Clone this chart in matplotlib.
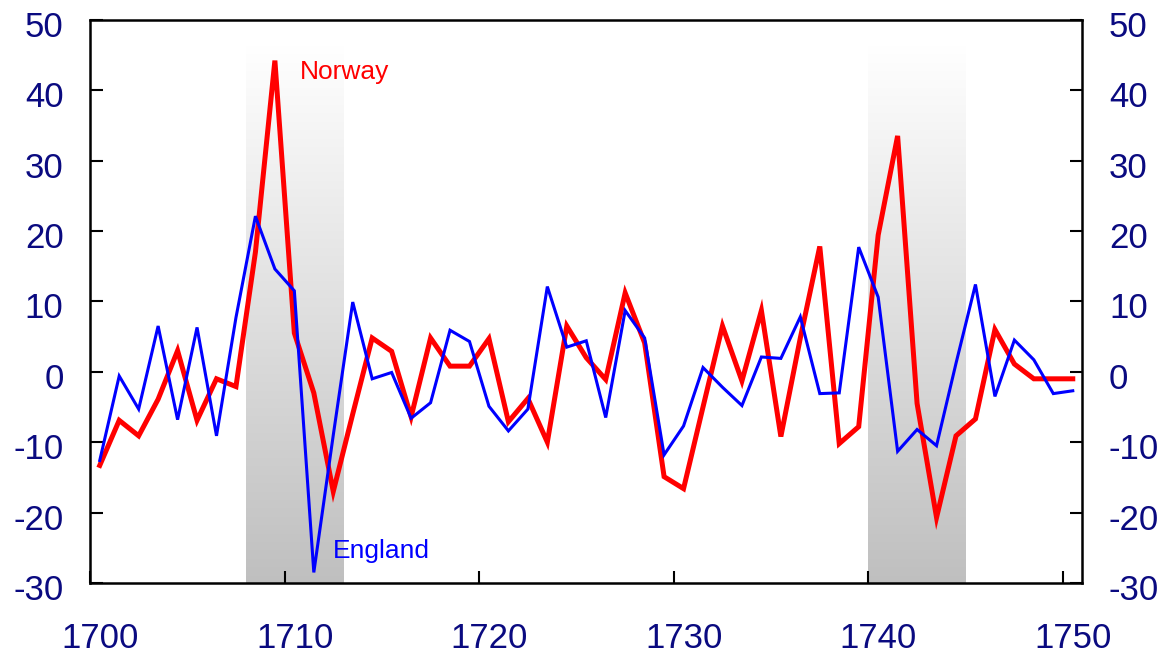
import numpy as np
import matplotlib
matplotlib.use('Agg')
import matplotlib.pyplot as plt
import matplotlib.transforms as mtransforms

plt.rcParams['font.family'] = ['Liberation Sans', 'DejaVu Sans']
plt.rcParams['axes.unicode_minus'] = False

# years (points are plotted mid-year)
years = np.arange(1700, 1751)

# Norway (thick red)
norway = [-13.3, -6.9, -9.1, -3.9, 3.0, -6.9, -1.0, -2.1, 17.0, 44.2,
          5.5, -3.0, -17.0, -6.0, 4.8, 2.9, -6.4, 4.8, 0.8, 0.8,
          4.7, -7.1, -3.8, -10.0, 6.5, 2.0, -1.1, 11.2, 4.1, -14.9,
          -16.6, -5.0, 6.5, -1.3, 8.7, -9.2, 4.8, 17.8, -10.2, -7.8,
          19.4, 33.5, -4.5, -20.7, -9.1, -6.7, 6.0, 1.1, -1.0, -1.0,
          -1.0]

# England (thin blue)
england = [-12.6, -0.6, -5.3, 6.5, -6.8, 6.3, -9.1, 7.7, 22.1, 14.6,
           11.5, -28.5, -9.0, 9.9, -1.0, -0.1, -6.6, -4.4, 5.9, 4.3,
           -4.9, -8.4, -5.3, 12.1, 3.5, 4.4, -6.5, 8.7, 4.8, -11.8,
           -7.7, 0.6, -2.2, -4.8, 2.1, 1.9, 7.8, -3.1, -3.0, 17.7,
           10.6, -11.3, -8.2, -10.5, 1.2, 12.4, -3.5, 4.5, 1.7, -3.1,
           -2.7]

# shaded periods
periods = [(1708, 1713), (1740, 1745)]
shade_top = 46.3

xticks = [1700, 1710, 1720, 1730, 1740, 1750]
yticks = [-30, -20, -10, 0, 10, 20, 30, 40, 50]

fig = plt.figure(figsize=(11.69, 6.58), dpi=100)
ax = fig.add_axes([0.077, 0.114, 0.849, 0.856])

# gradient shading: white at top -> grey at bottom
grad = np.linspace(1.0, 0.75, 256).reshape(-1, 1)
rgb = np.dstack([grad, grad, grad])
for a, b in periods:
    ax.imshow(rgb, extent=[a, b, -30, shade_top], aspect='auto',
              origin='upper', zorder=0, interpolation='bilinear')

x = years + 0.5
ax.plot(x, norway, color='#ff0000', lw=3.6, zorder=2, solid_joinstyle='miter')
ax.plot(x, england, color='#0000ff', lw=2.2, zorder=3, solid_joinstyle='miter')

ax.text(1710.8, 42.6, 'Norway', color='#ff0000', fontsize=19, va='center', ha='left')
ax.text(1712.5, -25.5, 'England', color='#0000ff', fontsize=19, va='center', ha='left')

ax.set_xlim(1700, 1751)
ax.set_ylim(-30, 50)
ax.set_xticks(xticks)
ax.set_yticks(yticks)

navy = '#0a0a80'
ax.tick_params(axis='x', direction='in', length=9, width=1.5, pad=28,
               labelsize=25, labelcolor=navy)
ax.tick_params(axis='y', direction='in', length=9, width=1.5, pad=19,
               labelsize=25, labelcolor=navy, left=True, right=True,
               labelleft=True, labelright=True)
for s in ax.spines.values():
    s.set_linewidth(1.8)
    s.set_color('black')

# year labels sit slightly right of their ticks, y labels slightly lower
xoff = mtransforms.ScaledTranslation(10 / 100, 0, fig.dpi_scale_trans)
for tick in ax.xaxis.get_major_ticks():
    tick.label1.set_transform(tick.label1.get_transform() + xoff)
yoff = mtransforms.ScaledTranslation(0, -4 / 100, fig.dpi_scale_trans)
for tick in ax.yaxis.get_major_ticks():
    tick.label1.set_transform(tick.label1.get_transform() + yoff)
    tick.label2.set_transform(tick.label2.get_transform() + yoff)

fig.savefig('out.png', dpi=100)
